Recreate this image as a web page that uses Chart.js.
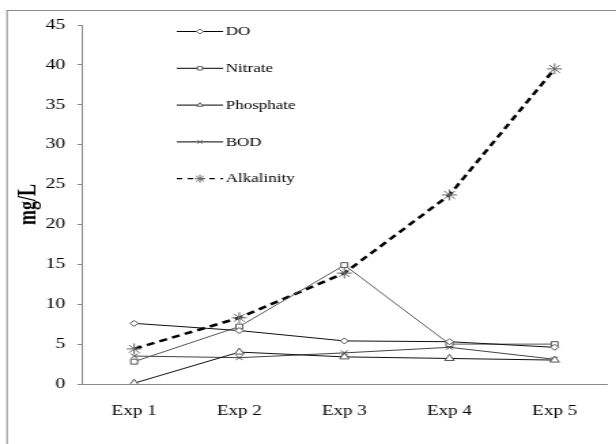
<!DOCTYPE html>
<html><head><meta charset="utf-8">
<script src="https://cdn.jsdelivr.net/npm/chart.js@4/dist/chart.umd.min.js"></script>
<style>html,body{margin:0;padding:0;background:#fff;overflow:hidden}
#c{display:block}</style>
</head><body>
<canvas id="c" width="453" height="444" style="width:616px;height:444px"></canvas>
<script>
const categories = ['Exp 1', 'Exp 2', 'Exp 3', 'Exp 4', 'Exp 5'];
const seriesNames = ['DO', 'Nitrate', 'Phosphate', 'BOD', 'Alkalinity'];
const doValues = [7.6, 6.7, 5.4, 5.3, 4.6];
const nitrateValues = [2.8, 7.2, 14.9, 5.0, 5.0];
const phosphateValues = [0.1, 4.0, 3.4, 3.2, 3.0];
const bodValues = [3.5, 3.3, 3.9, 4.6, 3.1];
const alkalinityValues = [4.4, 8.3, 13.9, 23.7, 39.5];
const yMin = 0, yMax = 45, yStep = 5;
const yTitle = 'mg/L';

const FONT = '"Liberation Serif", "Times New Roman", serif';

function ds(label, data, color, style, radius, extra) {
  return Object.assign({
    label, data,
    borderColor: color, borderWidth: 1, tension: 0, fill: false,
    pointStyle: style, pointRadius: radius, pointBorderWidth: 1,
    pointBorderColor: '#555', pointBackgroundColor: '#fff',
    legendLineWidth: 1
  }, extra || {});
}

const borderPlugin = {
  id: 'outerBorder',
  beforeDraw(chart) {
    const ctx = chart.ctx;
    ctx.save();
    ctx.fillStyle = '#fff';
    ctx.fillRect(0, 0, chart.width, chart.height);
    ctx.strokeStyle = '#8a8a8a';
    ctx.lineWidth = 1;
    ctx.strokeRect(5.2, 10.5, 1000, 1000);
    ctx.restore();
  }
};

const legendPlugin = {
  id: 'lineLegend',
  afterDraw(chart) {
    const ctx = chart.ctx;
    chart.data.datasets.forEach((d, i) => {
      const y = 31.5 + i * 36.8;
      ctx.save();
      ctx.strokeStyle = '#000';
      ctx.lineWidth = d.legendLineWidth;
      ctx.setLineDash(d.borderDash ? [4, 4] : []);
      ctx.beginPath(); ctx.moveTo(130, y); ctx.lineTo(164, y); ctx.stroke();
      ctx.setLineDash([]);
      ctx.strokeStyle = '#666';
      ctx.fillStyle = '#fff';
      ctx.lineWidth = 1;
      Chart.helpers.drawPoint(ctx, {pointStyle: d.pointStyle, radius: d.pointStyle === 'star' ? 4 : 2.5, rotation: 0, borderWidth: 1}, 147, y);
      ctx.fillStyle = '#000';
      ctx.font = '12.5px ' + FONT;
      ctx.textBaseline = 'middle';
      ctx.textAlign = 'left';
      ctx.fillText(d.label, 166, y + 0.5);
      ctx.restore();
    });
  }
};

new Chart(document.getElementById('c'), {
  type: 'line',
  data: {
    labels: categories,
    datasets: [
      ds(seriesNames[0], doValues, '#111', 'rectRot', 3),
      ds(seriesNames[1], nitrateValues, '#555', 'rect', 3.5),
      ds(seriesNames[2], phosphateValues, '#111', 'triangle', 4),
      ds(seriesNames[3], bodValues, '#444', 'crossRot', 3.5),
      ds(seriesNames[4], alkalinityValues, '#000', 'star', 5.5,
         {borderWidth: 2.5, borderDash: [6, 4], legendLineWidth: 1.3, pointBorderColor: '#666'})
    ]
  },
  options: {
    responsive: false,
    animation: false,
    devicePixelRatio: 1,
    layout: {padding: {top: 25, right: 3.7, left: 0, bottom: 0}},
    plugins: {legend: {display: false}, tooltip: {enabled: false}},
    scales: {
      x: {
        type: 'category',
        offset: true,
        grid: {display: true, drawOnChartArea: false, drawTicks: false},
        border: {display: true, color: '#8a8a8a', width: 1},
        ticks: {color: '#000', font: {family: FONT, size: 14}, padding: 19, maxRotation: 0, autoSkip: false},
        afterFit(s) { s.height = 60; }
      },
      y: {
        min: yMin, max: yMax,
        grid: {display: true, drawOnChartArea: false, drawTicks: true, tickLength: 3, color: '#8a8a8a'},
        border: {display: true, color: '#8a8a8a', width: 1},
        ticks: {stepSize: yStep, color: '#000', font: {family: FONT, size: 14.5}, padding: 9},
        title: {display: true, text: yTitle, color: '#000', font: {family: FONT, size: 18, weight: 'bold'}, padding: {top: 11, bottom: 0}},
        afterFit(s) { s.width = 60; }
      }
    }
  },
  plugins: [borderPlugin, legendPlugin]
});
</script>
</body></html>
